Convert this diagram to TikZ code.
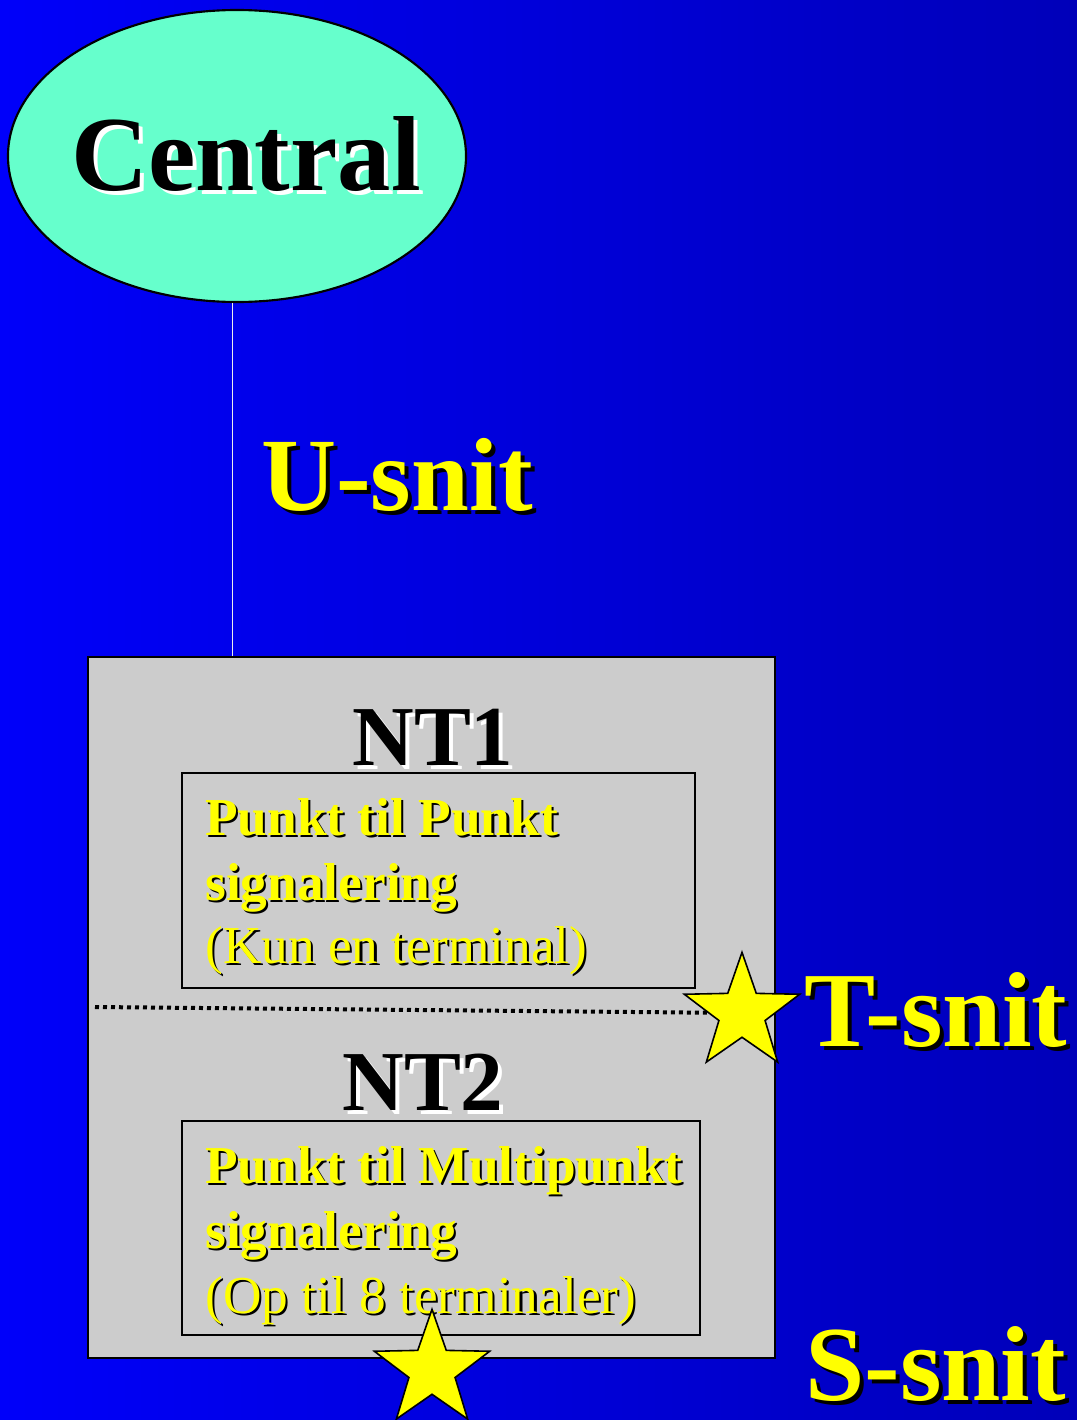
\documentclass[tikz,border=0pt]{standalone}
\usepackage{fontspec}
\setmainfont{Liberation Serif}
\usetikzlibrary{shapes.geometric}

\definecolor{bgleft}{RGB}{0,0,250}
\definecolor{bgright}{RGB}{0,0,185}
\definecolor{aqua}{RGB}{102,255,204}
\definecolor{boxgray}{RGB}{204,204,204}
\definecolor{sigyellow}{RGB}{255,255,0}

% text with a drop shadow: {colour}{shadow colour}{text}{offset}
\newcommand{\shadowed}[4]{{\rlap{\kern#4\raisebox{-#4}{\color{#2}#3}}\color{#1}#3}}
\newcommand{\hugefont}{\fontsize{80}{90}\selectfont\bfseries}
\newcommand{\snitfont}{\fontsize{78}{90}\selectfont\bfseries}
\newcommand{\ntfont}{\fontsize{64}{72}\selectfont\bfseries}
\newcommand{\boxfont}{\fontsize{40}{48}\selectfont}

\tikzset{
    snit/.style={anchor=base west, inner sep=0, font=\snitfont},
    boxline/.style={anchor=base west, inner sep=0, font=\boxfont},
    innerbox/.style={draw, line width=1.5pt, inner sep=0},
    marker/.style={star, star points=5, star point ratio=2.5, draw,
        fill=sigyellow, line width=1.2pt, inner sep=0, minimum size=91pt}
}

\begin{document}
\begin{tikzpicture}[x=0.75pt,y=-0.75pt]
    \useasboundingbox (0,0) rectangle (1077,1420);
    \shade[left color=bgleft, right color=bgright] (0,0) rectangle (1077,1420);

    \begin{scope}
        \node[draw, ellipse, fill=aqua, line width=1.6pt, inner sep=0,
            minimum width=343.5pt, minimum height=219pt] (central) at (237,156) {};
        \node[anchor=base, inner sep=0, font=\hugefont] (centraltxt) at (246,190)
            {\shadowed{black}{white}{Central}{3pt}};
        \node[snit] (usnit) at (261,510) {\shadowed{sigyellow}{black}{U-snit}{3pt}};

        \node[draw, fill=boxgray, line width=1.5pt, inner sep=0,
            minimum width=515pt, minimum height=526pt] (ntbox) at (431.5,1007.5) {};
        \node[innerbox, minimum width=385pt, minimum height=161pt] (box1) at (438.5,880.5) {};
        \node[innerbox, minimum width=388.5pt, minimum height=160.5pt] (box2) at (441,1228) {};

        \node[anchor=base, inner sep=0, font=\ntfont] (nt1) at (433,765)
            {\shadowed{black}{white}{NT1}{3pt}};
        \node[anchor=base, inner sep=0, font=\ntfont] (nt2) at (423,1110)
            {\shadowed{black}{white}{NT2}{3pt}};

        \node[boxline] (b1a) at (205,835) {\bfseries\shadowed{sigyellow}{black}{Punkt til Punkt}{1.6pt}};
        \node[boxline] (b1b) at (205,900) {\bfseries\shadowed{sigyellow}{black}{signalering}{1.6pt}};
        \node[boxline] (b1c) at (205,963) {\shadowed{sigyellow}{black}{(Kun en terminal)}{1.6pt}};

        \node[boxline] (b2a) at (205,1183) {\bfseries\shadowed{sigyellow}{black}{Punkt til Multipunkt}{1.6pt}};
        \node[boxline] (b2b) at (205,1248) {\bfseries\shadowed{sigyellow}{black}{signalering}{1.6pt}};
        \node[boxline] (b2c) at (205,1313) {\shadowed{sigyellow}{black}{(Op til 8 terminaler)}{1.6pt}};

        \node[marker] (tstar) at (742,1013) {};
        \node[marker] (sstar) at (432,1370) {};

        \node[snit, font=\fontsize{80}{90}\selectfont\bfseries] (tsnit) at (804,1046)
            {\shadowed{sigyellow}{black}{T-snit}{3pt}};
        \node[snit, font=\fontsize{80}{90}\selectfont\bfseries] (ssnit) at (805,1400)
            {\shadowed{sigyellow}{black}{S-snit}{3pt}};
        \coordinate (dotL) at (95,1007);
    \end{scope}

    \begin{scope}
    \draw[color=white!85!gray, line width=1pt] ([xshift=-3.5pt]central.south) -- ([xshift=-3.5pt]central.south |- ntbox.north);
    \draw[line width=3pt, dash pattern=on 3pt off 3pt] (dotL) -- (tstar);
    \end{scope}

\end{tikzpicture}
\end{document}
